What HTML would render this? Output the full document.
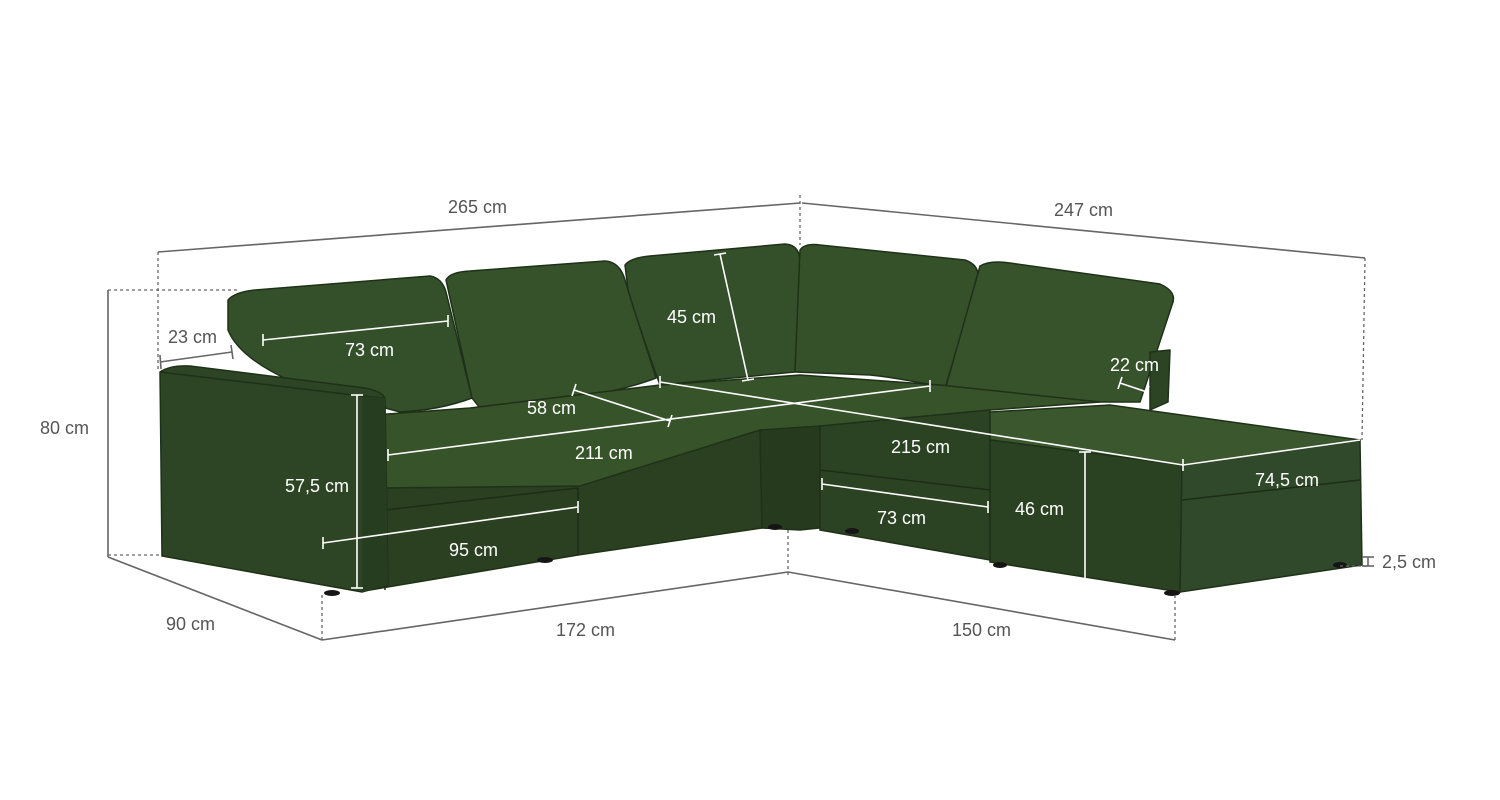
<!DOCTYPE html>
<html><head><meta charset="utf-8"><style>
html,body{margin:0;padding:0;background:#fff;width:1500px;height:800px;overflow:hidden}
text{font-family:"Liberation Sans",sans-serif;font-size:18px}
.g{fill:#555}.w{fill:#fff}
</style></head><body>
<svg width="1500" height="800" viewBox="0 0 1500 800" xmlns="http://www.w3.org/2000/svg">
<g stroke="#1f3118" stroke-width="1.5" stroke-linejoin="round">
<path d="M228,300 Q235,292 255,290 L430,276 Q442,278 446,292 L472,398 Q440,410 400,412 L300,385 Q240,360 228,330 Z" fill="#33502a"/>
<path d="M446,280 Q450,272 470,271 L605,261 Q620,262 625,280 L656,378 Q620,392 560,400 L480,408 L472,398 Z" fill="#35522b"/>
<path d="M625,265 Q630,258 650,256 L785,244 Q800,245 800,262 L795,372 L660,385 Q640,330 628,290 Z" fill="#33502a"/>
<path d="M800,250 Q805,243 820,245 L965,260 Q980,265 978,280 L945,388 Q900,378 870,375 L795,372 Z" fill="#34512a"/>
<path d="M980,266 Q990,260 1010,263 L1160,284 Q1178,292 1172,305 L1140,402 L1100,402 L945,390 Z" fill="#36532c"/>
<path d="M1150,352 L1170,350 L1168,402 L1150,410 Z" fill="#2c4424"/>
</g>
<path d="M375,415 L470,408 L660,385 L800,375 L940,385 L1100,402 L990,410 L820,428 L760,430 L580,488 L380,490 Z" fill="#365329" stroke="#1f3118" stroke-width="1.5"/>
<path d="M380,488 L580,486 L760,430 L762,528 L578,555 L370,590 Z" fill="#2a4021" stroke="#1f3118" stroke-width="1.5"/>
<path d="M385,510 L578,488 M578,488 L578,555 M385,510 L385,590" stroke="#1d2d16" stroke-width="1.5" fill="none"/>
<path d="M760,430 L820,426 L820,528 L800,530 L762,528 Z" fill="#263b1e" stroke="#1f3118" stroke-width="1.5"/>
<path d="M820,426 L990,410 L990,560 L820,530 Z" fill="#2c4323" stroke="#1f3118" stroke-width="1.5"/>
<path d="M820,470 L990,490" stroke="#1d2d16" stroke-width="1.5"/>
<path d="M990,412 L1110,405 L1360,440 L1182,465 L990,440 Z" fill="#3a572e" stroke="#1f3118" stroke-width="1.5"/>
<path d="M990,440 L1182,465 L1180,592 L990,562 Z" fill="#2b4222" stroke="#1f3118" stroke-width="1.5"/>
<path d="M1182,465 L1360,440 L1362,565 L1180,592 Z" fill="#30492a" stroke="#1f3118" stroke-width="1.5"/>
<path d="M1182,500 L1360,480" stroke="#1d2d16" stroke-width="1.5"/>
<path d="M160,372 Q170,365 190,366 L365,388 Q385,392 385,400 L388,585 L362,592 L162,556 Z" fill="#2d4524" stroke="#1f3118" stroke-width="1.5"/>
<path d="M160,372 L362,396 L385,398" stroke="#1f3118" stroke-width="1.5" fill="none"/>
<path d="M362,396 L362,592 L388,585 L385,398 Z" fill="#273d1f"/>
<g fill="#151515">
<ellipse cx="332" cy="593" rx="8" ry="3"/><ellipse cx="545" cy="560" rx="8" ry="3"/>
<ellipse cx="775" cy="527" rx="7" ry="3"/><ellipse cx="852" cy="531" rx="7" ry="3"/>
<ellipse cx="1000" cy="565" rx="7" ry="3"/><ellipse cx="1172" cy="593" rx="8" ry="3"/>
<ellipse cx="1340" cy="565" rx="7" ry="3"/>
</g>
<g stroke="#666" stroke-width="1.6" fill="none">
<line x1="158" y1="252" x2="800" y2="203"/><line x1="802" y1="203" x2="1365" y2="258"/>
<line x1="108" y1="290" x2="108" y2="557"/><line x1="108" y1="557" x2="322" y2="640"/>
<line x1="322" y1="640" x2="788" y2="572"/><line x1="788" y1="572" x2="1175" y2="640"/>
<line x1="1368" y1="557" x2="1368" y2="566"/><line x1="1362" y1="557" x2="1374" y2="557"/><line x1="1362" y1="566" x2="1374" y2="566"/>
<line x1="160" y1="362" x2="232" y2="352"/><line x1="160" y1="355" x2="161" y2="369"/><line x1="231" y1="345" x2="233" y2="359"/>
</g>
<g stroke="#666" stroke-width="1.3" stroke-dasharray="3,3" fill="none">
<line x1="158" y1="252" x2="158" y2="370"/><line x1="800" y1="195" x2="800" y2="245"/>
<line x1="1365" y1="258" x2="1362" y2="440"/><line x1="108" y1="290" x2="240" y2="290"/>
<line x1="108" y1="555" x2="162" y2="555"/><line x1="322" y1="595" x2="322" y2="640"/>
<line x1="788" y1="530" x2="788" y2="575"/><line x1="1175" y1="595" x2="1175" y2="640"/>
<line x1="1340" y1="566" x2="1368" y2="566"/>
</g>
<g stroke="#fff" stroke-width="1.6" fill="none">
<line x1="263" y1="340" x2="448" y2="321"/><line x1="263" y1="334" x2="263" y2="346"/><line x1="448" y1="315" x2="448" y2="327"/>
<line x1="720" y1="254" x2="748" y2="380"/><line x1="714" y1="255" x2="726" y2="253"/><line x1="742" y1="381" x2="754" y2="379"/>
<line x1="574" y1="390" x2="670" y2="421"/><line x1="576" y1="384" x2="572" y2="396"/><line x1="672" y1="415" x2="668" y2="427"/>
<line x1="388" y1="455" x2="930" y2="386"/><line x1="388" y1="449" x2="388" y2="461"/><line x1="930" y1="380" x2="930" y2="392"/>
<line x1="660" y1="382" x2="1183" y2="465"/><line x1="660" y1="376" x2="660" y2="388"/><line x1="1183" y1="459" x2="1183" y2="471"/>
<line x1="357" y1="395" x2="357" y2="588"/><line x1="351" y1="395" x2="363" y2="395"/><line x1="351" y1="588" x2="363" y2="588"/>
<line x1="323" y1="543" x2="578" y2="507"/><line x1="323" y1="537" x2="323" y2="549"/><line x1="578" y1="501" x2="578" y2="513"/>
<line x1="822" y1="484" x2="988" y2="507"/><line x1="822" y1="478" x2="822" y2="490"/><line x1="988" y1="501" x2="988" y2="513"/>
<line x1="1085" y1="452" x2="1085" y2="580"/><line x1="1079" y1="452" x2="1091" y2="452"/>
<line x1="1183" y1="465" x2="1360" y2="440"/>
<line x1="1120" y1="383" x2="1147" y2="392"/><line x1="1122" y1="377" x2="1118" y2="389"/><line x1="1149" y1="386" x2="1145" y2="398"/>
</g>
<g class="g">
<text x="448" y="213">265 cm</text><text x="1054" y="216">247 cm</text>
<text x="40" y="434">80 cm</text><text x="166" y="630">90 cm</text>
<text x="556" y="636">172 cm</text><text x="952" y="636">150 cm</text>
<text x="1382" y="568">2,5 cm</text><text x="168" y="343">23 cm</text>
</g>
<g class="w">
<text x="345" y="356">73 cm</text><text x="667" y="323">45 cm</text>
<text x="527" y="414">58 cm</text><text x="575" y="459">211 cm</text>
<text x="891" y="453">215 cm</text><text x="285" y="492">57,5 cm</text>
<text x="449" y="556">95 cm</text><text x="877" y="524">73 cm</text>
<text x="1015" y="515">46 cm</text><text x="1255" y="486">74,5 cm</text>
<text x="1110" y="371">22 cm</text>
</g>
</svg>
</body></html>
